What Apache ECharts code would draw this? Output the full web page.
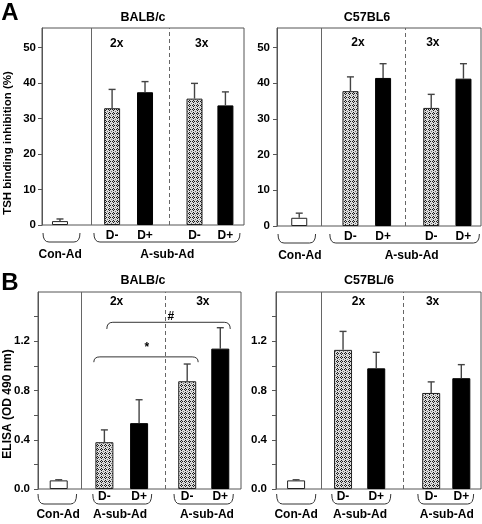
<!DOCTYPE html>
<html><head><meta charset="utf-8">
<script src="https://cdn.jsdelivr.net/npm/echarts@6/dist/echarts.min.js"></script>
<style>html,body{margin:0;padding:0;background:#fff}#c{width:482px;height:524px}</style>
</head><body><div id="c"></div>
<script>
// ---------------- DATA ----------------
const categories = ['Con-Ad', 'D-', 'D+', 'D-', 'D+'];
const kinds = ['con', 'minus', 'plus', 'minus', 'plus'];
const groupLabel = 'A-sub-Ad';
const doseLabels = ['2x', '3x'];
const tshBalbC = [1.1, 32.9, 37.4, 35.6, 33.7];
const tshBalbCErr = [0.6, 5.3, 3.0, 4.3, 3.8];
const tshC57 = [2.3, 37.8, 41.5, 33.1, 41.3];
const tshC57Err = [1.3, 4.0, 4.0, 3.8, 4.2];
const elisaBalbC = [0.07, 0.38, 0.535, 0.875, 1.14];
const elisaBalbCErr = [0.005, 0.10, 0.19, 0.14, 0.17];
const elisaC57 = [0.07, 1.13, 0.98, 0.78, 0.90];
const elisaC57Err = [0.005, 0.15, 0.13, 0.09, 0.11];
const tshTicks = [0, 10, 20, 30, 40, 50];
const elisaTicks = [0, 0.4, 0.8, 1.2];
const elisaMinorTicks = [0, 0.2, 0.4, 0.6, 0.8, 1.0, 1.2, 1.4];
const sigMarks = ['*', '#'];

// ---------------- LAYOUT (positions in % of panel width) ----------------
const FONT = '"Liberation Sans", Arial, Helvetica, sans-serif';
const ROWS = {
  top: {dLab: 11, end: 8, bot: 17, grp: 30},
  bot: {dLab: 8, end: 5, bot: 15, grp: 26}
};
const panels = [
  {title: 'BALB/c', tx: 143, ty: 18, values: tshBalbC, errs: tshBalbCErr, ticks: tshTicks, tickLabels: tshTicks, yMax: 55.5, fmt: v => String(v),
   grid: {left: 42, top: 28, width: 202, height: 197}, row: 'top', barW: 16, labelMargin: 6,
   xs: [8.9, 34.7, 51.0, 75.5, 90.8], div: 24.3, dash: 62.9, dose: [[37.0, 51.2], [79.1, 51.2]],
   brackets: [{x1: 0.5, x2: 18.8, lx: 9, t: 0}, {x1: 25.7, x2: 98, lx: 62, t: 1}]},
  {title: 'C57BL6', tx: 367, ty: 18, values: tshC57, errs: tshC57Err, ticks: tshTicks, tickLabels: tshTicks, yMax: 55.5, fmt: v => String(v),
   grid: {left: 277, top: 28, width: 204, height: 198}, row: 'top', barW: 16, labelMargin: 7,
   xs: [10.9, 36.0, 52.0, 75.6, 91.4], div: 21.8, dash: 62.8, dose: [[39.7, 51.5], [76.4, 51.5]],
   brackets: [{x1: 0.5, x2: 18.9, lx: 11.2, t: 0}, {x1: 25.9, x2: 99.2, lx: 66, t: 1}]},
  {title: 'BALB/c', tx: 143, ty: 281, values: elisaBalbC, errs: elisaBalbCErr, ticks: elisaMinorTicks, tickLabels: elisaTicks, yMax: 1.6, fmt: v => v.toFixed(1),
   grid: {left: 38, top: 292, width: 203, height: 197}, row: 'bot', barW: 18, labelMargin: 8,
   xs: [10.2, 32.7, 49.8, 73.5, 89.8], div: 21.4, dash: 62.6, dose: [[38.7, 1.525], [81.2, 1.525]],
   brackets: [{x1: 0, x2: 19, lx: 9.9, t: 0}, {x1: 27, x2: 56, lx: 40.4, t: 1}, {x1: 67, x2: 96.2, lx: 83.2, t: 1}],
   sig: [{x1: 27.5, x2: 78.9, top: 1.073, end: 1.03, mx: 53.6, my: 1.15}, {x1: 33.9, x2: 94.7, top: 1.354, end: 1.30, mx: 65.4, my: 1.40}]},
  {title: 'C57BL/6', tx: 369, ty: 281, values: elisaC57, errs: elisaC57Err, ticks: elisaMinorTicks, tickLabels: elisaTicks, yMax: 1.6, fmt: v => v.toFixed(1),
   grid: {left: 276, top: 292, width: 205, height: 197}, row: 'bot', barW: 18, labelMargin: 9,
   xs: [9.8, 32.7, 48.9, 75.7, 90.4], div: 22.0, dash: 62.2, dose: [[40.2, 1.525], [76.4, 1.525]],
   brackets: [{x1: 0.3, x2: 19.4, lx: 9.8, t: 0}, {x1: 27.2, x2: 56, lx: 41, t: 1}, {x1: 69.2, x2: 96.4, lx: 83.3, t: 1}]}
];

// stipple pattern for D- bars
function makeStipple() {
  const c = document.createElement('canvas');
  c.width = 4; c.height = 4;
  const g = c.getContext('2d');
  g.fillStyle = '#dcdcdc'; g.fillRect(0, 0, 4, 4);
  g.fillStyle = '#1a1a1a';
  [[1, 0], [0, 1], [2, 1], [1, 2]].forEach(p => g.fillRect(p[0], p[1], 1, 1));
  g.fillStyle = '#707070';
  [[3, 3]].forEach(p => g.fillRect(p[0], p[1], 1, 1));
  return c;
}
const stipple = makeStipple();
function barStyle(k) {
  if (k === 'con') return {color: '#ffffff', borderColor: '#222', borderWidth: 1};
  if (k === 'minus') return {color: {image: stipple, repeat: 'repeat'}, borderColor: '#222', borderWidth: 1};
  return {color: '#000000', borderColor: '#000', borderWidth: 1};
}
function txt(t, x, y, size, extra) {
  return Object.assign({type: 'text', x: x, y: y, style: {text: t, font: 'bold ' + (size || 12) + 'px ' + FONT, fill: '#000',
    align: 'center', verticalAlign: 'middle', textAlign: 'center', textVerticalAlign: 'middle'}}, extra || {});
}

const grids = [], xAxes = [], yAxes = [], series = [];
panels.forEach((p, gi) => {
  grids.push(Object.assign({show: true, borderColor: '#555', borderWidth: 1, backgroundColor: 'transparent'}, p.grid));
  xAxes.push({type: 'value', gridIndex: gi, min: 0, max: 100, axisLine: {show: false}, axisTick: {show: false},
    axisLabel: {show: false}, splitLine: {show: false}});
  yAxes.push({type: 'value', gridIndex: gi, min: 0, max: p.yMax,
    axisLine: {show: true, lineStyle: {color: '#555', width: 1}},
    axisTick: {show: true, length: 4, customValues: p.ticks, lineStyle: {color: '#555'}},
    axisLabel: {customValues: p.tickLabels, formatter: p.fmt, fontFamily: FONT, fontWeight: 'bold', fontSize: 11.5, color: '#000', margin: p.labelMargin},
    splitLine: {show: false}});
  series.push({type: 'bar', xAxisIndex: gi, yAxisIndex: gi, barWidth: p.barW, silent: true,
    data: p.values.map((v, i) => ({value: [p.xs[i], v], itemStyle: barStyle(kinds[i])})),
    markLine: {silent: true, symbol: ['none', 'none'], label: {show: false},
      data: [{xAxis: p.div, lineStyle: {type: 'solid', color: '#666', width: 1}},
             {xAxis: p.dash, lineStyle: {type: [4, 3], color: '#666', width: 1}}]}});
  series.push({type: 'custom', xAxisIndex: gi, yAxisIndex: gi, z: 4, silent: true,
    data: p.values.map((v, i) => [p.xs[i], v, p.errs[i]]),
    renderItem: (params, api) => {
      const x = api.value(0), v = api.value(1), e = api.value(2);
      const a = api.coord([x, v]), b = api.coord([x, v + e]);
      const st = {stroke: '#444', lineWidth: 1.4};
      return {type: 'group', children: [
        {type: 'line', shape: {x1: a[0], y1: a[1], x2: b[0], y2: b[1]}, style: st},
        {type: 'line', shape: {x1: b[0] - 3.5, y1: b[1], x2: b[0] + 3.5, y2: b[1]}, style: st}]};
    }});
  series.push({type: 'custom', xAxisIndex: gi, yAxisIndex: gi, z: 4, silent: true, clip: false,
    data: [[0, 0]],
    renderItem: (params, api) => {
      const R = ROWS[p.row];
      const y0 = api.coord([0, 0])[1];
      const X = x => api.coord([x, 0])[0];
      const ch = [];
      p.xs.forEach((x, i) => { if (i > 0) ch.push(txt(categories[i], X(x), y0 + R.dLab, 12)); });
      p.brackets.forEach(b => {
        const x1 = X(b.x1), x2 = X(b.x2), ye = y0 + R.end, yb = y0 + R.bot, r = 6;
        ch.push({type: 'path', shape: {pathData: `M${x1} ${ye}Q${x1} ${yb} ${x1 + r} ${yb}L${x2 - r} ${yb}Q${x2} ${yb} ${x2} ${ye}`},
          style: {fill: 'none', stroke: '#333', lineWidth: 1}});
        ch.push(txt(b.t === 0 ? categories[0] : groupLabel, X(b.lx), y0 + R.grp, 12));
      });
      p.dose.forEach((d, i) => { const c = api.coord(d); ch.push(txt(doseLabels[i], c[0], c[1], 12)); });
      (p.sig || []).forEach((s, i) => {
        const x1 = X(s.x1), x2 = X(s.x2), yt = api.coord([0, s.top])[1], ye = api.coord([0, s.end])[1], r = 6;
        ch.push({type: 'path', shape: {pathData: `M${x1} ${ye}Q${x1} ${yt} ${x1 + r} ${yt}L${x2 - r} ${yt}Q${x2} ${yt} ${x2} ${ye}`},
          style: {fill: 'none', stroke: '#333', lineWidth: 1}});
        const m = api.coord([s.mx, s.my]);
        ch.push(txt(sigMarks[i], m[0], m[1], 12));
      });
      return {type: 'group', children: ch};
    }});
});

const graphic = [
  txt('A', 10, 13, 24),
  txt('B', 10, 283, 24),
  txt('TSH binding inhibition (%)', 8, 143, 11.5, {rotation: Math.PI / 2}),
  txt('ELISA (OD 490 nm)', 8, 404, 12, {rotation: Math.PI / 2})
];
panels.forEach(p => graphic.push(txt(p.title, p.tx, p.ty, 12.5)));

const chart = echarts.init(document.getElementById('c'), null, {renderer: 'canvas'});
chart.setOption({animation: false, backgroundColor: '#fff', grid: grids, xAxis: xAxes, yAxis: yAxes, series: series, graphic: graphic});
</script></body></html>
